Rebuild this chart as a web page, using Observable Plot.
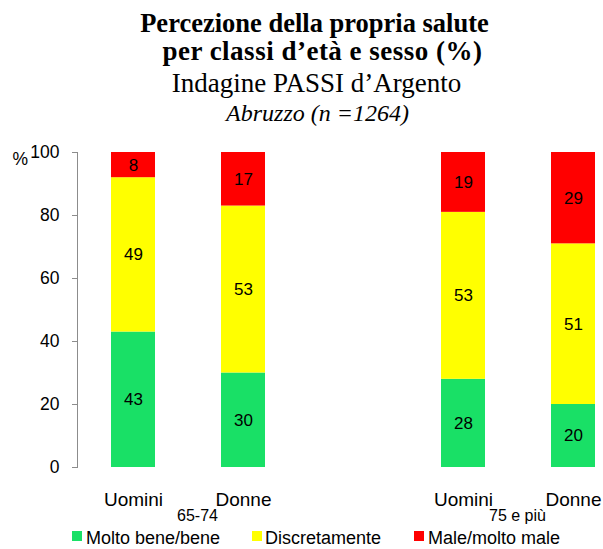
<!DOCTYPE html>
<html>
<head>
<meta charset="utf-8">
<script src="https://cdn.jsdelivr.net/npm/d3@7"></script>
<script src="https://cdn.jsdelivr.net/npm/@observablehq/plot@0.6"></script>
<style>
  html, body { margin: 0; padding: 0; background: #fff; }
  #page { position: relative; width: 603px; height: 549px; overflow: hidden; font-family: "Liberation Sans", Arial, sans-serif; }
  .t { position: absolute; left: 0; width: 603px; text-align: center; font-family: "Liberation Serif", "Times New Roman", serif; color: #000; white-space: nowrap; }
  #chart { position: absolute; left: 0; top: 140px; }
  .leg { position: absolute; top: 528px; font-size: 18px; line-height: 20px; color: #000; white-space: nowrap; }
  .sw { position: absolute; width: 10px; height: 10px; top: 3px; }
</style>
</head>
<body>
<div id="page">
  <div class="t" style="top:10px;font-size:26.5px;line-height:26.5px;font-weight:bold;margin-left:13px;">Percezione della propria salute</div>
  <div class="t" style="top:38px;font-size:27px;line-height:27px;font-weight:bold;letter-spacing:0.5px;margin-left:21px;">per classi d’età e sesso (%)</div>
  <div class="t" style="top:70px;font-size:27px;line-height:27px;margin-left:15px;">Indagine PASSI d’Argento</div>
  <div class="t" style="top:101px;font-size:24px;line-height:24px;font-style:italic;margin-left:16px;">Abruzzo (n =1264)</div>
  <div id="chart"></div>
  <div id="legend"></div>
</div>
<script>
// ---- data ----
const slots = ["U1", "D1", "gap", "U2", "D2"];
const barSlots = ["U1", "D1", "U2", "D2"];
const sexLabels = ["Uomini", "Donne", "", "Uomini", "Donne"];
const ageGroups = ["65-74", "75 e più"];
const series = ["Molto bene/bene", "Discretamente", "Male/molto male"];
const colors = ["#19E066", "#FFFF00", "#FF0000"];
const molto = [43, 30, 28, 20];
const discr = [49, 53, 53, 51];
const male = [8, 17, 19, 29];
const yTicks = [0, 20, 40, 60, 80, 100];

const values = [molto, discr, male];
const rows = [];
series.forEach((s, si) => {
  barSlots.forEach((slot, i) => rows.push({slot, series: s, value: values[si][i]}));
});

const font = "Liberation Sans, Arial, sans-serif";

const chart = Plot.plot({
  width: 603,
  height: 385,
  marginTop: 12,
  marginBottom: 58,
  marginLeft: 77,
  marginRight: 0,
  style: {fontFamily: font, fontSize: "17px", color: "#000", background: "transparent"},
  x: {type: "band", domain: slots, range: [76, 630], paddingInner: 0.6, paddingOuter: 0.3, axis: null},
  y: {domain: [0, 100], ticks: yTicks, axis: null},
  color: {domain: series, range: colors},
  marks: [
    Plot.barY(rows, {x: "slot", y: "value", fill: "series", order: series}),
    Plot.text(rows, Plot.stackY({x: "slot", y: "value", z: "series", order: series, text: "value", fill: "#000", fontSize: 17})),
    Plot.frame({anchor: "left", stroke: "#8c8c8c"}),
    Plot.axisY({ticks: yTicks, tickSize: 5, tickPadding: 13, stroke: "#8c8c8c", fontSize: 17.5, label: null}),
    Plot.axisX({tickSize: 0, tickPadding: 25, fontSize: 19, tickFormat: (d) => sexLabels[slots.indexOf(d)], label: null}),
    Plot.text(["%"], {frameAnchor: "top-left", dx: -65, dy: 7, lineAnchor: "middle", fontSize: 17.5, textAnchor: "start"}),
    Plot.text([ageGroups[0]], {x: () => "D1", dx: -46, frameAnchor: "bottom", dy: 53, lineAnchor: "bottom", fontSize: 16}),
    Plot.text([ageGroups[1]], {x: () => "D2", dx: -56, frameAnchor: "bottom", dy: 53, lineAnchor: "bottom", fontSize: 16})
  ]
});
document.getElementById("chart").appendChild(chart);

// legend
const legX = [[72, 86], [252, 265], [414, 428]];
const leg = document.getElementById("legend");
series.forEach((s, i) => {
  const sw = document.createElement("div");
  sw.className = "leg";
  sw.style.left = legX[i][0] + "px";
  sw.innerHTML = `<div class="sw" style="left:0;background:${colors[i]}"></div>`;
  leg.appendChild(sw);
  const tx = document.createElement("div");
  tx.className = "leg";
  tx.style.left = legX[i][1] + "px";
  tx.textContent = s;
  leg.appendChild(tx);
});
</script>
</body>
</html>
